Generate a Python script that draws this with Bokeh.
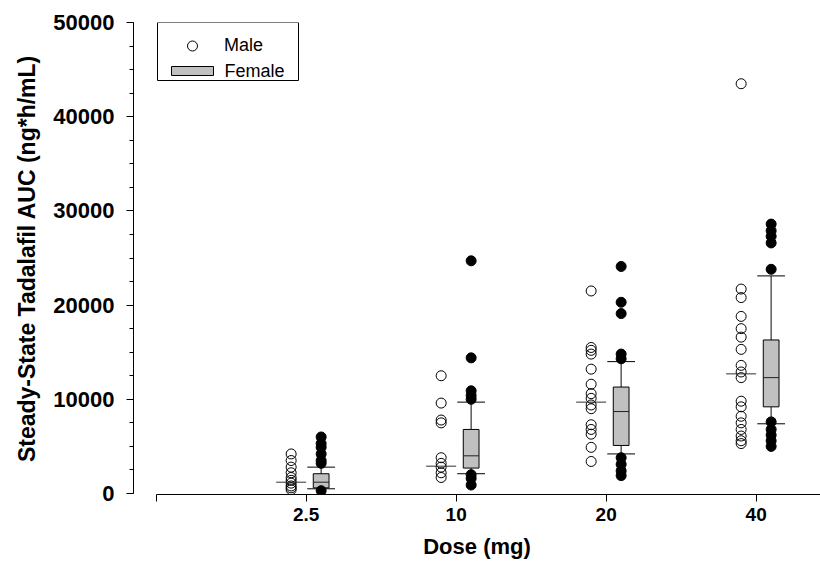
from bokeh.plotting import figure
from bokeh.models import (ColumnDataSource, Range1d, FixedTicker, SingleIntervalTicker,
                          Legend, LegendItem, BoxAnnotation, Label)
from bokeh.embed import file_html
from bokeh.resources import INLINE

# Dose groups (categorical, drawn at positions 1..4)
doses = ["2.5", "10", "20", "40"]

# Male individual AUC values (ng*h/mL)
male_2_5 = [4200, 3500, 2800, 2200, 1700, 1400, 1100, 800, 600, 400]
male_10 = [12500, 9600, 7800, 7500, 3800, 3200, 2800, 2200, 1700]
male_20 = [21500, 15500, 15200, 14800, 13200, 11600, 10600, 10100, 9400, 9000,
           7300, 6800, 6300, 4900, 3400]
male_40 = [43500, 21700, 20800, 18800, 17500, 16600, 15300, 13600, 12900, 12300,
           9800, 9200, 8200, 7500, 6800, 6100, 5600, 5300]
male_median = [1200, 2900, 9700, 12700]

# Female box-plot summaries: 10th pct, 25th, median, 75th, 90th
female_p10 = [500, 2100, 4200, 7400]
female_q1 = [600, 2700, 5100, 9200]
female_med = [1200, 4000, 8700, 12300]
female_q3 = [2100, 6800, 11300, 16300]
female_p90 = [2800, 9700, 14000, 23100]

# Female values outside the 10th-90th percentile whiskers
female_out_2_5 = [6000, 5300, 4900, 4200, 3500, 3200, 300]
female_out_10 = [24700, 14400, 10900, 10400, 10000, 2000, 1600, 900]
female_out_20 = [24100, 20300, 19100, 14800, 14300, 3800, 3100, 2400, 1900]
female_out_40 = [28600, 27900, 27300, 26600, 23800, 7600, 6800, 6200, 5600, 5000]

male_groups = [male_2_5, male_10, male_20, male_40]
female_out_groups = [female_out_2_5, female_out_10, female_out_20, female_out_40]

FONT = "Liberation Sans"
W, H = 820, 561
LEFT, TOP, BOTTOM = 133, 22, 67
OFF = 0.1          # horizontal shift of the male / female columns
BOX_W = 0.105
CAP_W = 0.185
MALE_W = 0.2

p = figure(width=W, height=H, output_backend="svg", toolbar_location=None,
           x_range=Range1d(-0.151, 4.429), y_range=Range1d(-106, 50000),
           min_border_left=LEFT, min_border_right=0, min_border_top=TOP,
           min_border_bottom=BOTTOM)
p.outline_line_color = None
p.xgrid.visible = False
p.ygrid.visible = False
p.background_fill_color = "white"

pos = [i + 1 for i in range(len(doses))]

# male scatter
mx, my = [], []
for xi, vals in zip(pos, male_groups):
    mx += [xi - OFF] * len(vals)
    my += vals
male_src = ColumnDataSource(dict(x=mx, y=my))

# female outliers
fx, fy = [], []
for xi, vals in zip(pos, female_out_groups):
    fx += [xi + OFF] * len(vals)
    fy += vals
fout_src = ColumnDataSource(dict(x=fx, y=fy))

bx = [xi + OFF for xi in pos]
box_src = ColumnDataSource(dict(
    x=bx, x0=[v - BOX_W / 2 for v in bx], x1=[v + BOX_W / 2 for v in bx],
    c0=[v - CAP_W / 2 for v in bx], c1=[v + CAP_W / 2 for v in bx],
    p10=female_p10, q1=female_q1, med=female_med, q3=female_q3, p90=female_p90))

mlx = [xi - OFF for xi in pos]
mline_src = ColumnDataSource(dict(x0=[v - MALE_W / 2 for v in mlx],
                                  x1=[v + MALE_W / 2 for v in mlx], y=male_median))

# whiskers
p.segment(x0="x", y0="q3", x1="x", y1="p90", source=box_src, line_color="#404040", line_width=1.3)
p.segment(x0="x", y0="p10", x1="x", y1="q1", source=box_src, line_color="#404040", line_width=1.3)
# boxes
p.vbar(x="x", width=BOX_W, bottom="q1", top="q3", source=box_src,
       fill_color="#C0C0C0", line_color="black", line_width=1)
p.segment(x0="x0", y0="med", x1="x1", y1="med", source=box_src, line_color="#202020", line_width=1)

# points
male_r = p.scatter(x="x", y="y", source=male_src, marker="circle", size=10,
                   line_color="black", fill_color=None, line_width=1)
p.scatter(x="x", y="y", source=fout_src, marker="circle", size=10,
          line_color="black", fill_color="black", line_width=1)

# caps and male median marks
p.segment(x0="c0", y0="p90", x1="c1", y1="p90", source=box_src, line_color="black", line_width=1)
p.segment(x0="c0", y0="p10", x1="c1", y1="p10", source=box_src, line_color="black", line_width=1)
p.segment(x0="x0", y0="y", x1="x1", y1="y", source=mline_src, line_color="#303030", line_width=1)

# axes
xa = p.xaxis[0]
xa.ticker = FixedTicker(ticks=[0] + pos)
xa.major_label_overrides = {0: ""} | {xi: d for xi, d in zip(pos, doses)}
xa.bounds = (0, 4.429)
xa.minor_tick_line_color = None
xa.axis_label = "Dose (mg)"

ya = p.yaxis[0]
ya.ticker = SingleIntervalTicker(interval=10000, num_minor_ticks=4)
ya.bounds = (0, 50000)
ya.axis_label = "Steady-State Tadalafil AUC (ng*h/mL)"
ya.formatter.use_scientific = False

for ax in (xa, ya):
    ax.axis_line_color = "black"
    ax.axis_line_width = 1
    ax.major_tick_line_color = "black"
    ax.major_tick_out = 7
    ax.major_tick_in = 0
    ax.major_label_text_font = FONT
    ax.major_label_text_font_style = "bold"
    ax.major_label_text_color = "black"
    ax.axis_label_text_font = FONT
    ax.axis_label_text_font_style = "bold"
    ax.axis_label_text_color = "black"
xa.major_label_text_font_size = "19px"
ya.major_label_text_font_size = "22px"
xa.axis_label_text_font_size = "22px"
ya.axis_label_text_font_size = "23px"
ya.minor_tick_line_color = "black"
ya.minor_tick_out = 4
ya.minor_tick_in = 0
ya.major_label_standoff = 12
ya.axis_label_standoff = 10
xa.major_label_standoff = 6
xa.axis_label_standoff = 10

# legend (screen units measured from the frame's bottom-left corner)
fb = H - BOTTOM   # frame bottom in canvas pixels
frame_box = BoxAnnotation(left=157 - LEFT, right=298 - LEFT, top=fb - 22, bottom=fb - 80,
                          left_units="screen", right_units="screen",
                          top_units="screen", bottom_units="screen",
                          fill_color="white", fill_alpha=1, line_color="black",
                          line_width=1, line_alpha=1)
p.add_layout(frame_box)

leg = Legend(items=[LegendItem(label="Male", renderers=[male_r])],
             location=(171 - LEFT, fb - 57.5), padding=0, margin=0, spacing=0,
             glyph_width=42, glyph_height=25, label_height=25, label_standoff=11,
             border_line_color=None, background_fill_alpha=0,
             label_text_font=FONT, label_text_font_size="18px", label_text_color="black")
p.add_layout(leg)

swatch = BoxAnnotation(left=171 - LEFT, right=213 - LEFT, top=fb - 66, bottom=fb - 75,
                       left_units="screen", right_units="screen",
                       top_units="screen", bottom_units="screen",
                       fill_color="#C0C0C0", fill_alpha=1, line_color="black",
                       line_width=1, line_alpha=1)
p.add_layout(swatch)
p.add_layout(Label(x=224 - LEFT, y=fb - 70.5, x_units="screen", y_units="screen",
                   text="Female", text_font=FONT, text_font_size="18px",
                   text_baseline="middle", text_color="black"))

open("out.html", "w").write(file_html(p, INLINE))
